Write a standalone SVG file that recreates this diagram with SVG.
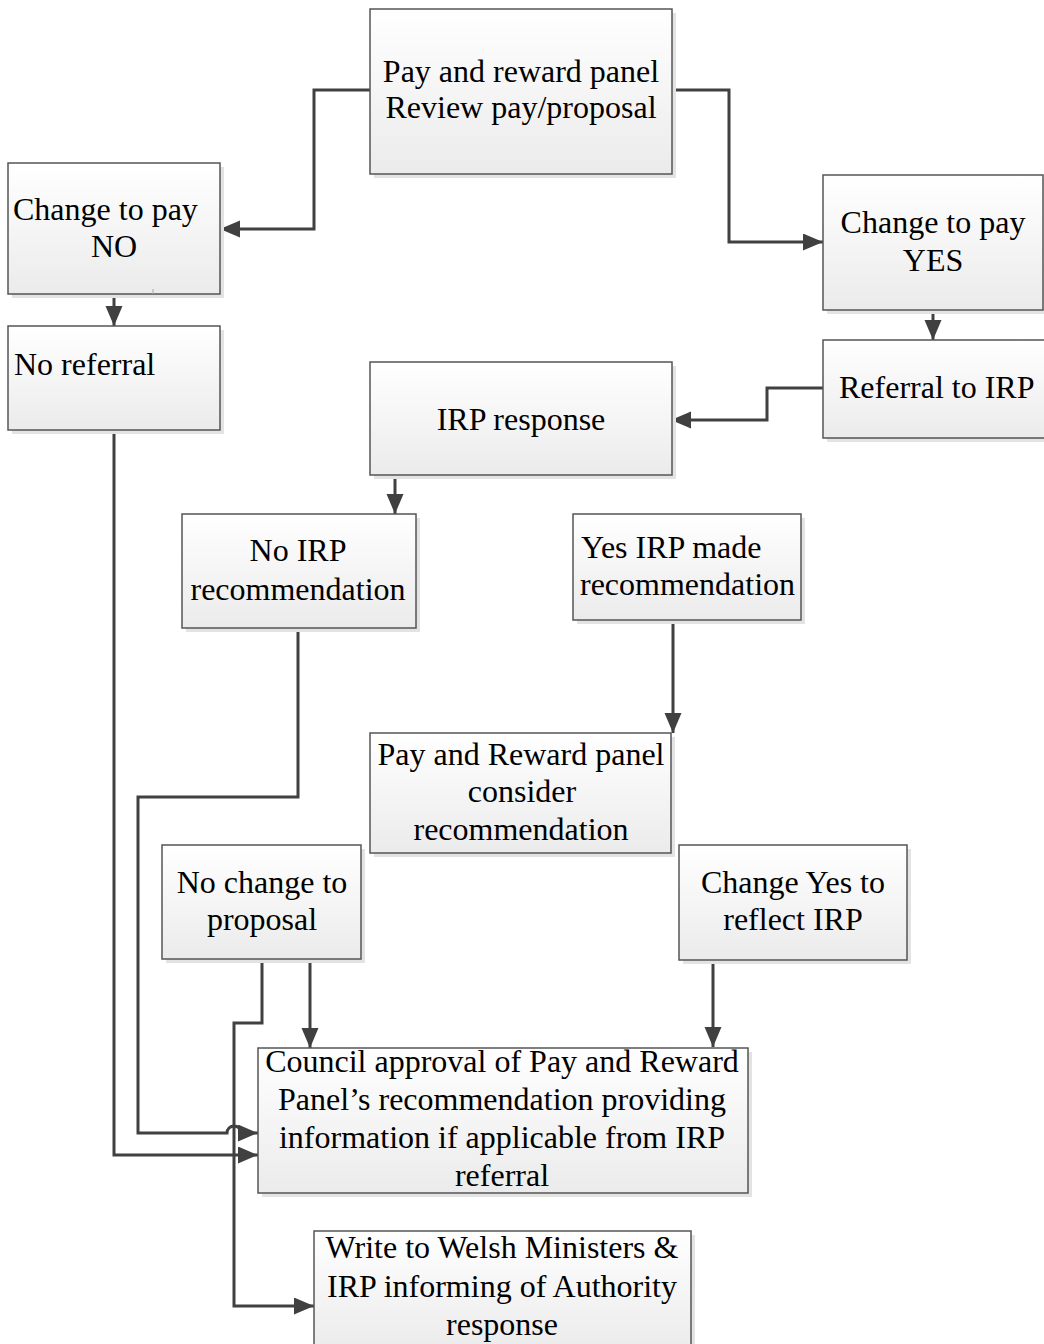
<svg xmlns="http://www.w3.org/2000/svg" width="1044" height="1344" viewBox="0 0 1044 1344">
<defs>
<linearGradient id="g" x1="0" y1="0" x2="0" y2="1">
<stop offset="0" stop-color="#ffffff"/>
<stop offset="1" stop-color="#ebebeb"/>
</linearGradient>
<marker id="arr" markerUnits="userSpaceOnUse" markerWidth="22" markerHeight="20" refX="20" refY="8.5" orient="auto">
<path d="M0,0 L20,8.5 L0,17 Z" fill="#404040"/>
</marker>
</defs>
<style>
.sh{fill:#e3e3e3;}
.bx{fill:url(#g);stroke:#555555;stroke-width:1.5;}
.t{font-family:"Liberation Serif","Times New Roman",serif;font-size:32px;fill:#000000;}
.m{text-anchor:middle;}
.c{fill:none;stroke:#404040;stroke-width:3;}
.a{marker-end:url(#arr);}
</style>
<rect width="1044" height="1344" fill="#ffffff"/>

<g id="connectors">
<path class="c a" d="M370,90 H314 V229 H220"/>
<path class="c a" d="M671,90 H729 V242 H823"/>
<path class="c a" d="M114,294 V326"/>
<path class="c a" d="M933,310 V340"/>
<path class="c a" d="M823,388 H767 V420 H671"/>
<path class="c a" d="M395,475 V514"/>
<path class="c a" d="M673,620 V733"/>
<path class="c a" d="M298,628 V797 H138 V1133 H227 A7,7 0 0 1 241,1133 H258"/>
<path class="c a" d="M114,430 V1155 H258"/>
<path class="c a" d="M262,959 V1023 H234 V1306 H314"/>
<path class="c a" d="M310,959 V1048"/>
<path class="c a" d="M713,960 V1047"/>
</g>

<g id="pay-review">
<rect class="sh" x="374" y="13" width="302" height="165"/>
<rect class="bx" x="370" y="9" width="302" height="165"/>
<text class="t m" x="521" y="82">Pay and reward panel</text>
<text class="t m" x="521" y="118">Review pay/proposal</text>
</g>

<g id="change-no">
<rect class="sh" x="12" y="167" width="212" height="131"/>
<rect class="bx" x="8" y="163" width="212" height="131"/>
<line x1="153" y1="289" x2="153" y2="294" stroke="#aaaaaa" stroke-width="1"/>
<text class="t" x="13" y="220">Change to pay</text>
<text class="t m" x="114" y="257">NO</text>
</g>

<g id="change-yes">
<rect class="sh" x="827" y="179" width="220" height="135"/>
<rect class="bx" x="823" y="175" width="220" height="135"/>
<text class="t m" x="933" y="233">Change to pay</text>
<text class="t m" x="933" y="271">YES</text>
</g>

<g id="no-referral">
<rect class="sh" x="12" y="330" width="212" height="104"/>
<rect class="bx" x="8" y="326" width="212" height="104"/>
<text class="t" x="14" y="375">No referral</text>
</g>

<g id="referral-irp">
<rect class="sh" x="827" y="344" width="222" height="98"/>
<rect class="bx" x="823" y="340" width="222" height="98"/>
<text class="t" x="839" y="398">Referral to IRP</text>
</g>

<g id="irp-response">
<rect class="sh" x="374" y="366" width="302" height="113"/>
<rect class="bx" x="370" y="362" width="302" height="113"/>
<text class="t m" x="521" y="430">IRP response</text>
</g>

<g id="no-irp">
<rect class="sh" x="186" y="518" width="234" height="114"/>
<rect class="bx" x="182" y="514" width="234" height="114"/>
<text class="t m" x="298" y="561">No IRP</text>
<text class="t m" x="298" y="600">recommendation</text>
</g>

<g id="yes-irp">
<rect class="sh" x="577" y="518" width="228" height="106"/>
<rect class="bx" x="573" y="514" width="228" height="106"/>
<text class="t" x="581" y="558">Yes IRP made</text>
<text class="t" x="580" y="595">recommendation</text>
</g>

<g id="consider">
<rect class="sh" x="374" y="737" width="301" height="120"/>
<rect class="bx" x="370" y="733" width="301" height="120"/>
<text class="t m" x="521" y="765">Pay and Reward panel</text>
<text class="t m" x="522" y="802">consider</text>
<text class="t m" x="521" y="840">recommendation</text>
</g>

<g id="no-change">
<rect class="sh" x="166" y="849" width="199" height="114"/>
<rect class="bx" x="162" y="845" width="199" height="114"/>
<text class="t m" x="262" y="893">No change to</text>
<text class="t m" x="262" y="930">proposal</text>
</g>

<g id="change-yes-irp">
<rect class="sh" x="683" y="849" width="228" height="115"/>
<rect class="bx" x="679" y="845" width="228" height="115"/>
<text class="t m" x="793" y="893">Change Yes to</text>
<text class="t m" x="793" y="930">reflect IRP</text>
</g>

<g id="council">
<rect class="sh" x="262" y="1052" width="490" height="145"/>
<rect class="bx" x="258" y="1048" width="490" height="145"/>
<text class="t m" x="502" y="1072">Council approval of Pay and Reward</text>
<text class="t m" x="502" y="1110">Panel’s recommendation providing</text>
<text class="t m" x="502" y="1148">information if applicable from IRP</text>
<text class="t m" x="502" y="1186">referral</text>
</g>

<g id="write">
<rect class="sh" x="318" y="1235" width="377" height="120"/>
<rect class="bx" x="314" y="1231" width="377" height="120"/>
<text class="t m" x="502" y="1258">Write to Welsh Ministers &amp;</text>
<text class="t m" x="502" y="1297">IRP informing of Authority</text>
<text class="t m" x="502" y="1335">response</text>
</g>
</svg>
